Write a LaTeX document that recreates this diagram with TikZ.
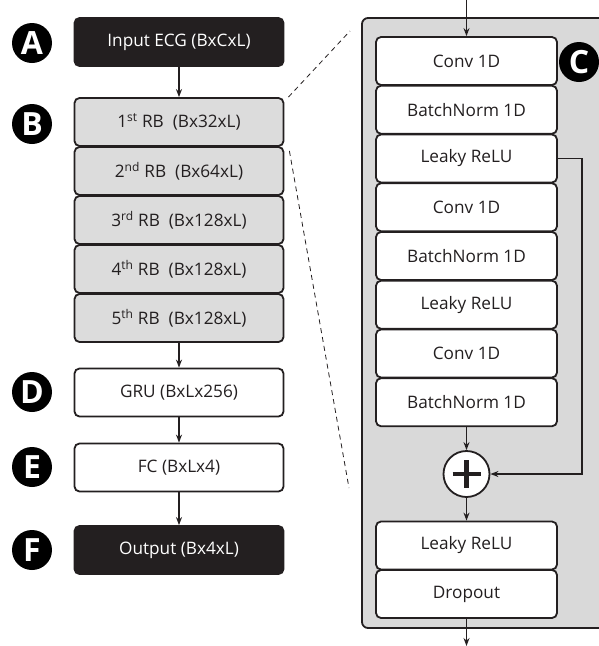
\documentclass[tikz,border=0pt]{standalone}
\usepackage{fontspec}
\setmainfont{Open Sans}
\usetikzlibrary{arrows.meta,calc}
\definecolor{ink}{HTML}{231F20}
\definecolor{panelgray}{HTML}{D9D9D9}
\definecolor{rbgray}{HTML}{DCDCDC}
\tikzset{
  blk/.style={draw=ink, line width=1.8pt, rounded corners=5pt, minimum height=48pt, inner sep=0pt, font=\fontsize{17.2}{19}\selectfont, text=ink},
  leftbox/.style={blk, minimum width=209pt},
  rightbox/.style={blk, minimum width=181pt, fill=white},
  darkbox/.style={leftbox, fill=ink, text=white},
  rbbox/.style={leftbox, fill=rbgray},
  whitebox/.style={leftbox, fill=white},
  tag/.style={circle, fill=black, minimum size=40pt, inner sep=0pt, text=white, font=\fontsize{32}{32}\selectfont\bfseries},
  arr/.style={draw=ink, line width=1.4pt, -{Stealth[length=8pt,width=6pt]}},
  dsh/.style={draw=ink, line width=0.8pt, dash pattern=on 5pt off 4pt},
}
\begin{document}
\begin{tikzpicture}[x=1pt,y=-1pt]
\useasboundingbox (0,0) rectangle (599,646);
\clip (0,0) rectangle (599,646);
% right panel
\draw[fill=panelgray, draw=ink, line width=1.8pt, rounded corners=6pt] (362,18) rectangle (640,628);
% left column
\node[darkbox] (inp) at (179,42) {Input ECG (BxCxL)};
\node[rbbox] (rb1) at (179,122) {1\textsuperscript{st} RB\ \ (Bx32xL)};
\node[rbbox] (rb2) at (179,171) {2\textsuperscript{nd} RB\ \ (Bx64xL)};
\node[rbbox] (rb3) at (179,220) {3\textsuperscript{rd} RB\ \ (Bx128xL)};
\node[rbbox] (rb4) at (179,269) {4\textsuperscript{th} RB\ \ (Bx128xL)};
\node[rbbox] (rb5) at (179,318) {5\textsuperscript{th} RB\ \ (Bx128xL)};
\node[whitebox] (gru) at (179,392.5) {GRU (BxLx256)};
\node[whitebox] (fc) at (179,467.5) {FC (BxLx4)};
\node[darkbox] (out) at (179,550) {Output (Bx4xL)};
\draw[arr] (inp) -- (rb1);
\draw[arr] (rb5) -- (gru);
\draw[arr] (gru) -- (fc);
\draw[arr] (fc) -- (out);
% tags
\node[tag] (ta) at (32,43) {A};
\node[tag] (tb) at (32,124) {B};
\node[tag] (td) at (32,392) {D};
\node[tag] (te) at (32,467) {E};
\node[tag] (tf) at (32,550) {F};
\node[tag] (tc) at (579,62) {C};
% right column
\node[rightbox] (c1) at (466.5,61) {Conv 1D};
\node[rightbox] (b1) at (466.5,109.75) {BatchNorm 1D};
\node[rightbox] (l1) at (466.5,158.5) {Leaky ReLU};
\node[rightbox] (c2) at (466.5,207.25) {Conv 1D};
\node[rightbox] (b2) at (466.5,256) {BatchNorm 1D};
\node[rightbox] (l2) at (466.5,304.75) {Leaky ReLU};
\node[rightbox] (c3) at (466.5,353.5) {Conv 1D};
\node[rightbox] (b3) at (466.5,402.25) {BatchNorm 1D};
\node[circle, draw=ink, fill=white, line width=1.8pt, minimum size=46pt, inner sep=0pt] (plus) at (466.5,474) {};
\draw[ink, line width=4.5pt] ($(plus.center)+(-14,0)$) -- ($(plus.center)+(14,0)$);
\draw[ink, line width=4.5pt] ($(plus.center)+(0,-14)$) -- ($(plus.center)+(0,14)$);
\node[rightbox] (l3) at (466.5,545.5) {Leaky ReLU};
\node[rightbox] (dr) at (466.5,594) {Dropout};
\coordinate (topin) at (466.5,0);
\coordinate (botout) at (466.5,646);
\draw[arr] (topin) -- (c1);
\draw[arr] (b3) -- (plus);
\draw[arr] (plus) -- (l3);
\draw[arr] (dr) -- (botout);
\draw[arr] (l1.east) -- (582,158.5) |- (plus.east);
% zoom lines
\coordinate (z1) at (350,31);
\coordinate (z2) at (349,488);
\draw[dsh] (rb1.north east) ++(4,0) -- (z1);
\draw[dsh] (rb1.south east) ++(5,4) -- (z2);
\end{tikzpicture}
\end{document}
